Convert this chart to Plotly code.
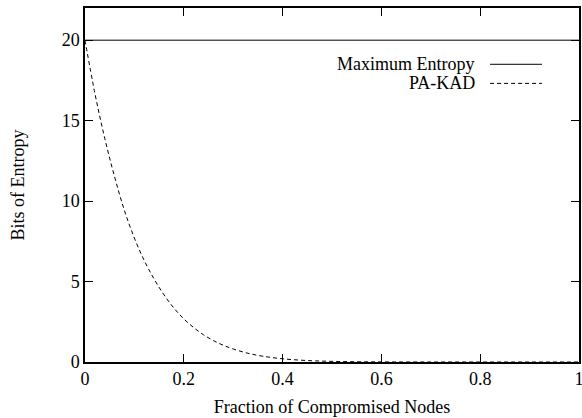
import plotly.graph_objects as go

# Data
max_x = [0.0, 1.0]
max_y = [20.0, 20.0]

pakad_x = [0.0, 0.02, 0.04, 0.06, 0.08, 0.10, 0.12, 0.14, 0.16, 0.18, 0.20,
           0.22, 0.24, 0.26, 0.28, 0.30, 0.33, 0.36, 0.40, 0.45, 0.50, 0.55,
           0.60, 0.70, 0.80, 0.90, 1.0]
pakad_y = [20.0, 16.7, 13.9, 11.5, 9.4, 7.7, 6.3, 5.15, 4.17, 3.35, 2.68,
           2.14, 1.69, 1.33, 1.04, 0.81, 0.54, 0.36, 0.20, 0.09, 0.04, 0.016,
           0.005, 0.0005, 0.0, 0.0, 0.0]

x_ticks = [0, 0.2, 0.4, 0.6, 0.8, 1]
x_tick_labels = ["0", "0.2", "0.4", "0.6", "0.8", "1"]
y_ticks = [0, 5, 10, 15, 20]
y_tick_labels = ["0", "5", "10", "15", "20"]

series_names = ["Maximum Entropy", "PA-KAD"]

FONT = "Liberation Serif"
FS = 18

fig = go.Figure()
fig.add_trace(go.Scatter(x=max_x, y=max_y, mode="lines", name=series_names[0],
                         line=dict(color="black", width=1), showlegend=False))
fig.add_trace(go.Scatter(x=pakad_x, y=pakad_y, mode="lines", name=series_names[1],
                         line=dict(color="black", width=1, dash="4px,3px", shape="spline"),
                         showlegend=False))

axis_common = dict(showline=True, linecolor="black", linewidth=1.5, mirror="allticks",
                   ticks="inside", ticklen=8, tickwidth=1, tickcolor="black",
                   showgrid=False, zeroline=False, automargin=False,
                   ticklabeloverflow="allow",
                   tickfont=dict(family=FONT, size=FS, color="black"))

fig.update_xaxes(range=[0, 1], tickvals=x_ticks, ticktext=x_tick_labels,
                 title=dict(text="Fraction of Compromised Nodes",
                            font=dict(family=FONT, size=FS, color="black"), standoff=12),
                 **axis_common)
fig.update_yaxes(range=[0, 22], tickvals=y_ticks, ticktext=y_tick_labels,
                 title=dict(text="Bits of Entropy",
                            font=dict(family=FONT, size=FS, color="black"), standoff=32),
                 **axis_common)

# Custom legend (text right-aligned, sample line to the right)
legend_y = [0.841, 0.787]
legend_dash = ["solid", "4px,3px"]
for name, ly, dash in zip(series_names, legend_y, legend_dash):
    fig.add_annotation(x=0.794, y=ly, xref="paper", yref="paper", text=name,
                       showarrow=False, xanchor="right", yanchor="middle",
                       font=dict(family=FONT, size=FS, color="black"))
    fig.add_shape(type="line", xref="paper", yref="paper", x0=0.820, x1=0.925,
                  y0=ly, y1=ly, line=dict(color="black", width=1, dash=dash))

fig.update_layout(width=582, height=418, margin=dict(l=85, r=3, t=8, b=56),
                  paper_bgcolor="white", plot_bgcolor="white",
                  font=dict(family=FONT, size=FS, color="black"))

fig.write_html("out.html", config={"displayModeBar": False},
               post_script="document.body.style.margin='0';document.body.style.overflow='hidden';")
